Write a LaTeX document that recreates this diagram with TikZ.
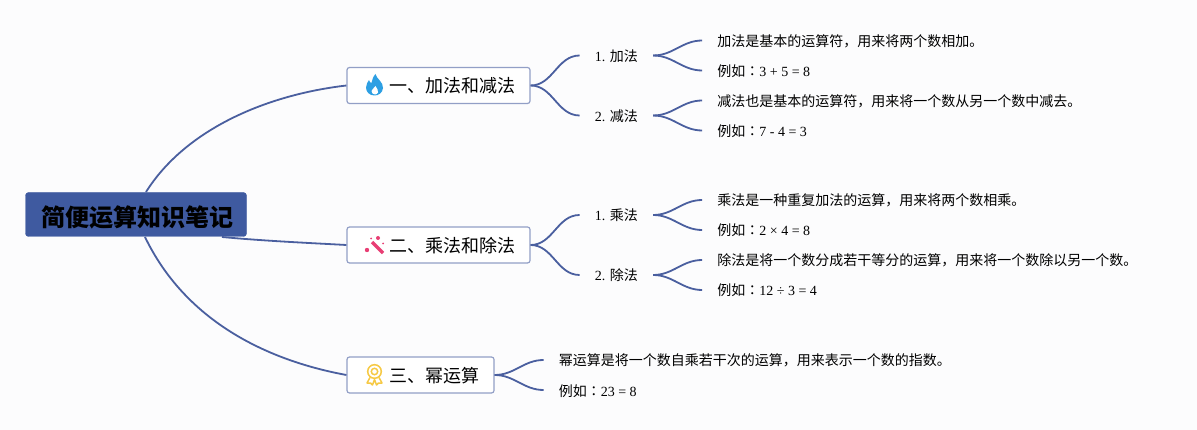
\documentclass[tikz,border=0pt]{standalone}
\usepackage{fontspec}
\setmainfont{Liberation Serif}
\newfontfamily\cjk{Noto Sans CJK SC}
\newfontfamily\cjkcolon{Noto Sans CJK TC}
\newcommand{\eg}{{\cjk 例如\cjkcolon ：}}
\usetikzlibrary{positioning}
\definecolor{rootblue}{HTML}{3F5AA0}
\definecolor{linkblue}{HTML}{4A5F9F}
\definecolor{boxblue}{HTML}{929FC6}
\definecolor{paper}{HTML}{FCFCFD}
\definecolor{flame}{HTML}{2D9FE3}
\definecolor{wand}{HTML}{E83E74}
\definecolor{medal}{HTML}{F6C945}

\begin{document}
\begin{tikzpicture}[x=1pt,y=-1pt,
	root/.style={rectangle,fill=rootblue,draw=rootblue,rounded corners=3,minimum width=221pt,minimum height=44pt,inner sep=0pt,text height=26pt,text depth=2pt,font=\cjk\bfseries\fontsize{24}{24}\selectfont},
	branch/.style={rectangle,draw=boxblue,fill=white,line width=1.2pt,rounded corners=2.5,minimum height=36pt,inner sep=0pt,text height=18pt,text depth=3pt,font=\cjk\fontsize{18}{18}\selectfont},
	topic/.style={inner xsep=15pt,inner ysep=3pt,text height=13pt,text depth=1pt,font=\fontsize{14}{14}\selectfont},
	leaf/.style={inner xsep=15pt,inner ysep=3pt,text height=13pt,text depth=1pt,font=\fontsize{14}{14}\selectfont},
	links/.style={draw=linkblue,line width=1.8pt,out=0,in=180}]

	\fill[paper] (0,0) rectangle (1197,430);

	\node[root] (notes) at (136,214.5) {\hspace*{2pt}简便运算知识笔记};
	\coordinate (notes-top) at (146,192);
	\coordinate (notes-mid) at (222,237);
	\coordinate (notes-low) at (145,237);

	\node[branch,minimum width=183pt] (add) at (438.5,85.5) {\hspace*{27pt}一、加法和减法};
	\node[branch,minimum width=183pt] (mul) at (438.5,245) {\hspace*{27pt}二、乘法和除法};
	\node[branch,minimum width=147pt] (pow) at (420.5,375) {\hspace*{27pt}三、幂运算};

	% first branch
	\node[topic,right=49pt of add,yshift=30pt] (add-1) {1. {\cjk 加法}};
	\node[topic,right=49pt of add,yshift=-30pt] (add-2) {2. {\cjk 减法}};
	\node[leaf,right=49pt of add-1,yshift=15pt] (add-1a) {\cjk 加法是基本的运算符，用来将两个数相加。};
	\node[leaf,right=49pt of add-1,yshift=-15pt] (add-1b) {\eg 3 + 5 = 8};
	\node[leaf,right=49pt of add-2,yshift=15pt] (add-2a) {\cjk 减法也是基本的运算符，用来将一个数从另一个数中减去。};
	\node[leaf,right=49pt of add-2,yshift=-15pt] (add-2b) {\eg 7 - 4 = 3};

	% second branch
	\node[topic,right=49pt of mul,yshift=30pt] (mul-1) {1. {\cjk 乘法}};
	\node[topic,right=49pt of mul,yshift=-30pt] (mul-2) {2. {\cjk 除法}};
	\node[leaf,right=49pt of mul-1,yshift=15pt] (mul-1a) {\cjk 乘法是一种重复加法的运算，用来将两个数相乘。};
	\node[leaf,right=49pt of mul-1,yshift=-15pt] (mul-1b) {\eg 2 × 4 = 8};
	\node[leaf,right=49pt of mul-2,yshift=15pt] (mul-2a) {\cjk 除法是将一个数分成若干等分的运算，用来将一个数除以另一个数。};
	\node[leaf,right=49pt of mul-2,yshift=-15pt] (mul-2b) {\eg 12 ÷ 3 = 4};

	% third branch
	\node[leaf,right=49pt of pow,yshift=15pt] (pow-a) {\cjk 幂运算是将一个数自乘若干次的运算，用来表示一个数的指数。};
	\node[leaf,right=49pt of pow,yshift=-15pt] (pow-b) {\eg 23 = 8};

	\draw[draw=linkblue,line width=1.8pt] (notes-top) .. controls (185,130) and (265,95) .. (add.west);
	\draw[draw=linkblue,line width=1.8pt] (notes-mid) .. controls (265,241) and (310,243) .. (mul.west);
	\draw[draw=linkblue,line width=1.8pt] (notes-low) .. controls (185,320) and (265,360) .. (pow.west);

	\foreach \from/\to in {add/add-1,add/add-2,add-1/add-1a,add-1/add-1b,add-2/add-2a,add-2/add-2b,
		mul/mul-1,mul/mul-2,mul-1/mul-1a,mul-1/mul-1b,mul-2/mul-2a,mul-2/mul-2b,pow/pow-a,pow/pow-b}
		\draw[links] (\from.east) to (\to.west);

	% icons
	\begin{scope}[shift={(374.5,85)}]
		\fill[flame] (1,-11) .. controls (2,-6) and (9,-3) .. (8.5,3) .. controls (8,8) and (4,10.5) .. (0,10.5)
			.. controls (-5,10.5) and (-8.5,7) .. (-8.5,2.5) .. controls (-8.5,-1) and (-6.5,-3) .. (-5.5,-5)
			.. controls (-5,-3) and (-4,-2) .. (-3,-2) .. controls (-2,-5) and (-2,-8) .. (1,-11) -- cycle;
		\fill[white] (1,1) .. controls (2,4) and (4.5,5) .. (3.5,7.5) .. controls (3,9) and (1.5,9.5) .. (0.5,9.5)
			.. controls (-1.5,9.5) and (-3,8) .. (-3,6) .. controls (-3,4) and (0,3.5) .. (1,1) -- cycle;
	\end{scope}
	\begin{scope}[shift={(375,245.5)}]
		\draw[wand,line width=3.4pt] (-3,-3.5) -- (8,7.5);
		\fill[wand] (3,-7.5) circle (2);
		\fill[wand] (-8,4.5) circle (2.2);
		\fill[wand] (8,-2) circle (1);
		\fill[wand] (-4,-7) circle (1);
	\end{scope}
	\begin{scope}[shift={(374.5,375)},medal]
		\draw[line width=1.5pt] (0,-3.5) circle (6.8);
		\draw[line width=1.5pt] (0,-3.5) circle (3.2);
		\draw[line width=1.5pt,line join=round] (-4.5,2.5) -- (-7.5,8) -- (-4,8) -- (-2,10) -- (0,4.5) -- (2,10) -- (4,8) -- (7.5,8) -- (4.5,2.5);
	\end{scope}
\end{tikzpicture}
\end{document}
